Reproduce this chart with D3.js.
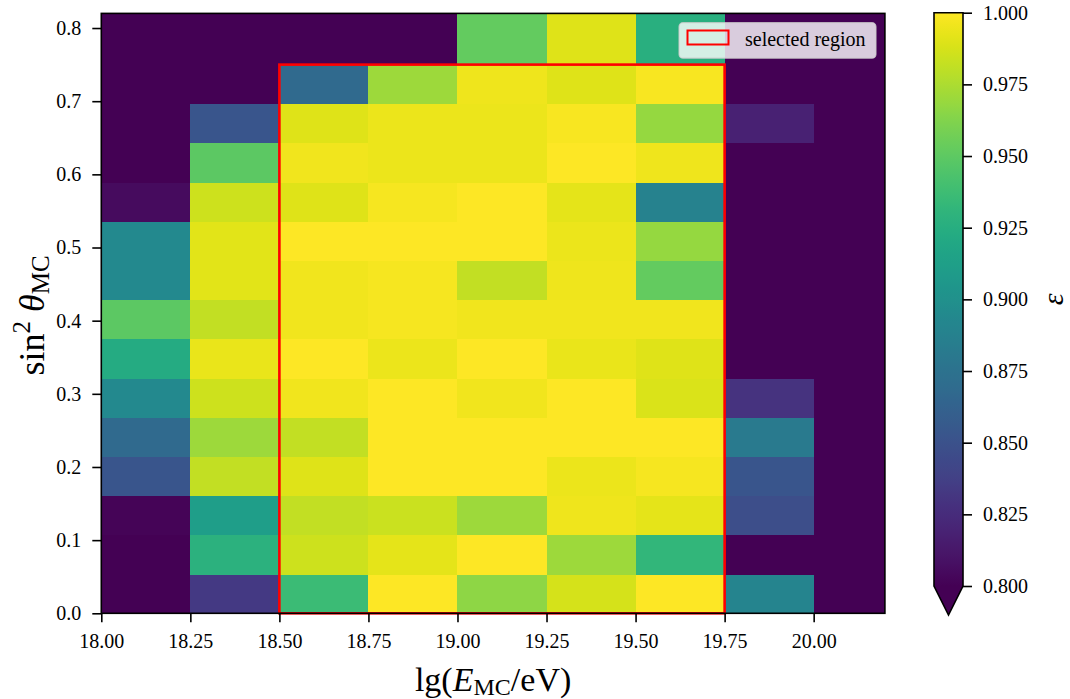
<!DOCTYPE html>
<html>
<head>
<meta charset="utf-8">
<script src="https://cdn.jsdelivr.net/npm/d3@7"></script>
<style>
  body { margin: 0; background: #ffffff; }
  svg text { font-family: "Liberation Serif", "Times New Roman", "DejaVu Serif", serif; fill: #000; }
</style>
</head>
<body>
<svg id="chart" width="1070" height="699"></svg>
<script>
// Bin edges in lg(E/eV) and sin^2(theta)
const energyEdges = [18.0, 18.25, 18.5, 18.75, 19.0, 19.25, 19.5, 19.75, 20.0, 20.25];
const sin2Edges = [0.0, 0.0536, 0.1071, 0.1607, 0.2143, 0.2679, 0.3214, 0.375,
                   0.4286, 0.4821, 0.5357, 0.5893, 0.6429, 0.6964, 0.75, 0.82];

// Efficiency per bin, one row per sin^2 bin (bottom row first), one entry per energy bin.
// Values below 0.8 fall under the colour range.
const effRow00 = [0.700, 0.833, 0.936, 1.000, 0.966, 0.987, 1.000, 0.890, 0.700];
const effRow01 = [0.700, 0.928, 0.985, 0.992, 1.000, 0.971, 0.932, 0.700, 0.700];
const effRow02 = [0.802, 0.911, 0.982, 0.984, 0.971, 0.995, 0.992, 0.847, 0.700];
const effRow03 = [0.853, 0.982, 0.990, 1.000, 1.000, 0.994, 0.997, 0.853, 0.700];
const effRow04 = [0.868, 0.971, 0.982, 1.000, 1.000, 1.000, 1.000, 0.882, 0.700];
const effRow05 = [0.894, 0.985, 0.996, 1.000, 0.996, 1.000, 0.989, 0.829, 0.700];
const effRow06 = [0.922, 0.993, 1.000, 0.994, 1.000, 0.993, 0.990, 0.700, 0.700];
const effRow07 = [0.950, 0.982, 0.996, 0.997, 0.996, 0.996, 0.996, 0.700, 0.700];
const effRow08 = [0.894, 0.991, 0.996, 0.997, 0.982, 0.995, 0.952, 0.700, 0.700];
const effRow09 = [0.894, 0.991, 1.000, 1.000, 1.000, 0.994, 0.968, 0.700, 0.700];
const effRow10 = [0.806, 0.985, 0.990, 0.997, 1.000, 0.992, 0.888, 0.700, 0.700];
const effRow11 = [0.700, 0.950, 0.996, 0.994, 0.994, 1.000, 0.995, 0.700, 0.700];
const effRow12 = [0.700, 0.853, 0.990, 0.994, 0.994, 0.998, 0.968, 0.818, 0.700];
const effRow13 = [0.700, 0.700, 0.868, 0.971, 0.995, 0.990, 0.998, 0.700, 0.700];
const effRow14 = [0.700, 0.700, 0.700, 0.700, 0.952, 0.990, 0.926, 0.700, 0.700];
const efficiency = [effRow00, effRow01, effRow02, effRow03, effRow04, effRow05, effRow06, effRow07,
                    effRow08, effRow09, effRow10, effRow11, effRow12, effRow13, effRow14];

// Axis ticks
const xTicks = [18.0, 18.25, 18.5, 18.75, 19.0, 19.25, 19.5, 19.75, 20.0];
const yTicks = [0.0, 0.1, 0.2, 0.3, 0.4, 0.5, 0.6, 0.7, 0.8];
const cbarTicks = [0.800, 0.825, 0.850, 0.875, 0.900, 0.925, 0.950, 0.975, 1.000];

// Selected analysis region
const selLgE = [18.5, 19.75];
const selSin2 = [0.0, 0.75];

const colorMin = 0.8, colorMax = 1.0;
const SERIF = '"Liberation Serif", "Times New Roman", "DejaVu Serif", serif';

const svg = d3.select("#chart");

// Plot area
const plot = { left: 101.3, right: 884.9, top: 13.4, bottom: 613.3 };
const x = d3.scaleLinear().domain([18.0, 20.2]).range([plot.left, plot.right]);
const y = d3.scaleLinear().domain([0, 0.82]).range([plot.bottom, plot.top]);

const color = v => d3.interpolateViridis(Math.max(0, Math.min(1, (v - colorMin) / (colorMax - colorMin))));

const defs = svg.append("defs");
defs.append("clipPath").attr("id", "plotClip")
  .append("rect")
  .attr("x", plot.left).attr("y", plot.top)
  .attr("width", plot.right - plot.left).attr("height", plot.bottom - plot.top);

// Heatmap cells
const cells = [];
efficiency.forEach((row, i) => {
  row.forEach((v, j) => {
    cells.push({ x0: energyEdges[j], x1: energyEdges[j + 1], y0: sin2Edges[i], y1: sin2Edges[i + 1], v });
  });
});

svg.append("g").attr("clip-path", "url(#plotClip)")
  .selectAll("rect").data(cells).join("rect")
  .attr("x", d => x(d.x0))
  .attr("y", d => y(d.y1))
  .attr("width", d => x(d.x1) - x(d.x0) + 0.5)
  .attr("height", d => y(d.y0) - y(d.y1) + 0.5)
  .attr("fill", d => color(d.v))
  .attr("shape-rendering", "crispEdges");

// Selected region outline
svg.append("rect")
  .attr("x", x(selLgE[0]))
  .attr("y", y(selSin2[1]))
  .attr("width", x(selLgE[1]) - x(selLgE[0]))
  .attr("height", y(selSin2[0]) - y(selSin2[1]))
  .attr("fill", "none")
  .attr("stroke", "#ff0000")
  .attr("stroke-width", 2.6);

// Axes
const xAxis = d3.axisBottom(x).tickValues(xTicks).tickFormat(d3.format(".2f")).tickSizeOuter(0).tickSize(9).tickPadding(12);
const yAxis = d3.axisLeft(y).tickValues(yTicks).tickFormat(d3.format(".1f")).tickSizeOuter(0).tickSize(9).tickPadding(11);

const gx = svg.append("g").attr("transform", `translate(0,${plot.bottom})`).call(xAxis);
const gy = svg.append("g").attr("transform", `translate(${plot.left},0)`).call(yAxis);
[gx, gy].forEach(g => {
  g.attr("font-family", SERIF).attr("font-size", 20);
  g.select(".domain").remove();
  g.selectAll(".tick line").attr("stroke", "#000").attr("stroke-width", 1.6);
  g.selectAll(".tick text").attr("fill", "#000");
});

// Axes frame
svg.append("rect")
  .attr("x", plot.left).attr("y", plot.top)
  .attr("width", plot.right - plot.left).attr("height", plot.bottom - plot.top)
  .attr("fill", "none").attr("stroke", "#000").attr("stroke-width", 1.6);

// Axis labels
const xl = svg.append("text")
  .attr("x", (plot.left + plot.right) / 2).attr("y", 691)
  .attr("text-anchor", "middle").attr("font-size", 34);
xl.append("tspan").text("lg(");
xl.append("tspan").attr("font-style", "italic").text("E");
xl.append("tspan").attr("font-size", 24).attr("dy", 4).text("MC");
xl.append("tspan").attr("dy", -4).text("/eV)");

const yl = svg.append("text")
  .attr("transform", `translate(44,${(plot.top + plot.bottom) / 2 + 2}) rotate(-90)`)
  .attr("text-anchor", "middle").attr("font-size", 36);
yl.append("tspan").text("sin");
yl.append("tspan").attr("font-size", 25).attr("dy", -14).text("2");
yl.append("tspan").attr("dy", 14).text(" ");
yl.append("tspan").attr("font-style", "italic").text("θ");
yl.append("tspan").attr("font-size", 25).attr("dy", 5).text("MC");

// Legend
const leg = svg.append("g");
leg.append("rect")
  .attr("x", 679).attr("y", 22.7).attr("width", 197).attr("height", 35.5)
  .attr("rx", 4).attr("ry", 4)
  .attr("fill", "#ffffff").attr("fill-opacity", 0.8)
  .attr("stroke", "#cccccc").attr("stroke-opacity", 0.8).attr("stroke-width", 1.2);
leg.append("rect")
  .attr("x", 687.5).attr("y", 30.5).attr("width", 41).attr("height", 14)
  .attr("fill", "none").attr("stroke", "#ff0000").attr("stroke-width", 2);
leg.append("text")
  .attr("x", 745).attr("y", 45.5).attr("font-size", 20).text("selected region");

// Colorbar
const cb = { left: 934, right: 963, top: 12.7, bottom: 586, tip: 615 };
const cy = d3.scaleLinear().domain([colorMin, colorMax]).range([cb.bottom, cb.top]);

const grad = defs.append("linearGradient")
  .attr("id", "viridisGrad").attr("x1", 0).attr("y1", 1).attr("x2", 0).attr("y2", 0);
d3.range(0, 1.0001, 0.02).forEach(t => {
  grad.append("stop").attr("offset", t).attr("stop-color", d3.interpolateViridis(t));
});

svg.append("rect")
  .attr("x", cb.left).attr("y", cb.top)
  .attr("width", cb.right - cb.left).attr("height", cb.bottom - cb.top)
  .attr("fill", "url(#viridisGrad)");

// Extension triangle for values below the colour range
svg.append("path")
  .attr("d", `M${cb.left},${cb.bottom} L${cb.right},${cb.bottom} L${(cb.left + cb.right) / 2},${cb.tip} Z`)
  .attr("fill", d3.interpolateViridis(0));

svg.append("path")
  .attr("d", `M${cb.left},${cb.top} L${cb.right},${cb.top} L${cb.right},${cb.bottom} L${(cb.left + cb.right) / 2},${cb.tip} L${cb.left},${cb.bottom} Z`)
  .attr("fill", "none").attr("stroke", "#000").attr("stroke-width", 1.6);

const cAxis = d3.axisRight(cy).tickValues(cbarTicks).tickFormat(d3.format(".3f")).tickSize(9).tickPadding(11).tickSizeOuter(0);
const gc = svg.append("g").attr("transform", `translate(${cb.right},0)`).call(cAxis);
gc.attr("font-family", SERIF).attr("font-size", 20);
gc.select(".domain").remove();
gc.selectAll(".tick line").attr("stroke", "#000").attr("stroke-width", 1.6);
gc.selectAll(".tick text").attr("fill", "#000");

svg.append("text")
  .attr("transform", `translate(1063,${(cb.top + cb.bottom) / 2}) rotate(-90)`)
  .attr("text-anchor", "middle").attr("font-size", 30).attr("font-style", "italic")
  .text("ε");

// Make sure every label uses the serif face
svg.selectAll("text").attr("font-family", SERIF).style("font-family", SERIF);
</script>
</body>
</html>
